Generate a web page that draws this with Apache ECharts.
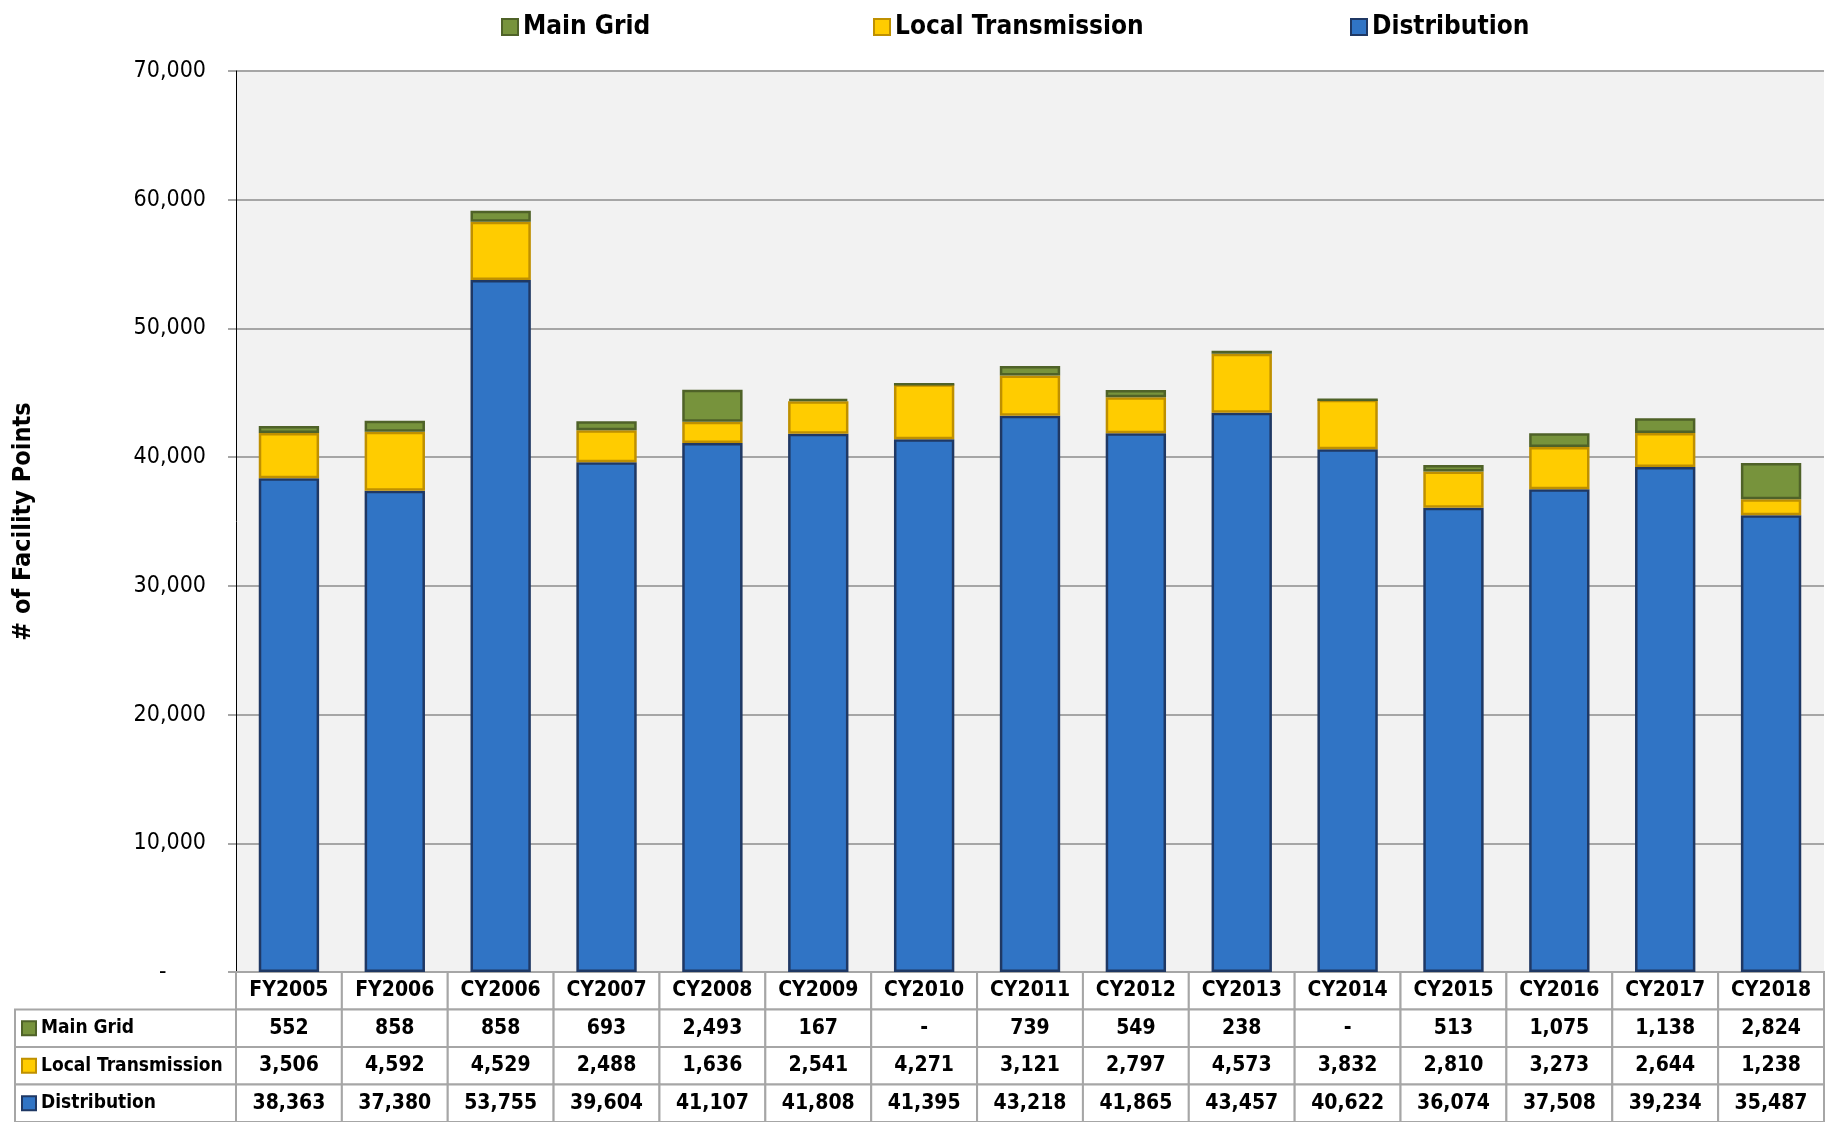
<!DOCTYPE html>
<html>
<head>
<meta charset="utf-8">
<title>Facility Points</title>
<script src="https://cdn.jsdelivr.net/npm/echarts@6/dist/echarts.min.js"></script>
<style>
  html, body { margin: 0; padding: 0; background: #fff; }
  #main { width: 1826px; height: 1122px; }
</style>
</head>
<body>
<div id="main"></div>
<script>
const categories = ['FY2005', 'FY2006', 'CY2006', 'CY2007', 'CY2008', 'CY2009', 'CY2010', 'CY2011',
  'CY2012', 'CY2013', 'CY2014', 'CY2015', 'CY2016', 'CY2017', 'CY2018']
const mainGrid = [552, 858, 858, 693, 2493, 167, 0, 739, 549, 238, 0, 513, 1075, 1138, 2824]
const localTransmission = [3506, 4592, 4529, 2488, 1636, 2541, 4271, 3121, 2797, 4573, 3832, 2810, 3273, 2644, 1238]
const distribution = [38363, 37380, 53755, 39604, 41107, 41808, 41395, 43218, 41865, 43457, 40622, 36074, 37508, 39234, 35487]
const rowNames = ['Main Grid', 'Local Transmission', 'Distribution']
const yMax = 70000
const yStep = 10000

const FONT = "'Liberation Sans Narrow', 'DejaVu Sans Condensed', 'Open Sans', sans-serif"
const colors = {
  'Main Grid': { fill: '#77933C', border: '#4F6228' },
  'Local Transmission': { fill: '#FFCC00', border: '#BF9000' },
  'Distribution': { fill: '#3074C5', border: '#1F3864' }
}
const rowValues = { 'Main Grid': mainGrid, 'Local Transmission': localTransmission, 'Distribution': distribution }

function fmt (v) {
  return v === 0 ? '-' : v.toLocaleString('en-US')
}

// table cells: [col, row, text, kind]  kind 0 = value cell, 1 = row label
const tableRows = [''].concat(rowNames)
const tableData = []
categories.forEach((c, i) => tableData.push([i, 0, c, 0]))
rowNames.forEach((name, r) => {
  tableData.push([0, r + 1, name, 1])
  rowValues[name].forEach((v, i) => tableData.push([i, r + 1, fmt(v), 0]))
})

const LABEL_COL_W = 221
const CELL_LINE = '#A6A6A6'

function renderCell (params, api) {
  const col = api.value(0)
  const row = api.value(1)
  const text = tableData[params.dataIndex][2]
  const kind = api.value(3)
  const size = api.size([1, 1])
  const c = api.coord([col, row])
  const w = size[0]
  const h = size[1]
  const y0 = c[1] - h / 2
  if (kind === 1) {
    const x0 = params.coordSys.x - LABEL_COL_W
    const col2 = colors[text]
    return {
      type: 'group',
      children: [
        { type: 'rect', shape: { x: x0, y: y0, width: LABEL_COL_W, height: h },
          style: { fill: '#fff', stroke: CELL_LINE, lineWidth: 2 } },
        { type: 'rect', shape: { x: x0 + 7, y: c[1] - 7, width: 14, height: 14 },
          style: { fill: col2.fill, stroke: col2.border, lineWidth: 2 } },
        { type: 'text', x: x0 + 26, y: c[1],
          style: { text: text, fill: '#000', fontSize: 19, fontWeight: 'bold', fontFamily: FONT,
            align: 'left', verticalAlign: 'middle' } }
      ]
    }
  }
  return {
    type: 'group',
    children: [
      { type: 'rect', shape: { x: c[0] - w / 2, y: y0, width: w, height: h },
        style: { fill: '#fff', stroke: CELL_LINE, lineWidth: 2 } },
      { type: 'text', x: c[0], y: c[1],
        style: { text: text, fill: '#000', fontSize: 21, fontWeight: 'bold', fontFamily: FONT,
          align: 'center', verticalAlign: 'middle' } }
    ]
  }
}

function barSeries (name, values) {
  return {
    name: name,
    type: 'bar',
    stack: 'total',
    xAxisIndex: 0,
    yAxisIndex: 0,
    barCategoryGap: '43%',
    data: values,
    itemStyle: { color: colors[name].fill, borderColor: colors[name].border, borderWidth: 2.5 }
  }
}

function legendAt (name, left) {
  return {
    data: [name],
    left: left,
    top: 9,
    itemWidth: 16,
    itemHeight: 16,
    itemGap: 0,
    icon: 'rect',
    selectedMode: false,
    textStyle: { fontSize: 26, fontWeight: 'bold', color: '#000', fontFamily: FONT }
  }
}

const chart = echarts.init(document.getElementById('main'))
chart.setOption({
  animation: false,
  backgroundColor: '#fff',
  legend: [
    legendAt('Main Grid', 496),
    legendAt('Local Transmission', 868),
    legendAt('Distribution', 1345)
  ],
  grid: [
    { left: 236, right: 2, top: 71, bottom: 150, show: true, backgroundColor: '#F2F2F2', borderWidth: 0,
      outerBoundsMode: 'none', containLabel: false },
    { left: 236, right: 2, top: 972, bottom: 0, outerBoundsMode: 'none', containLabel: false }
  ],
  xAxis: [
    { type: 'category', gridIndex: 0, data: categories,
      axisLine: { show: false }, axisTick: { show: false }, axisLabel: { show: false } },
    { type: 'category', gridIndex: 1, data: categories, show: false }
  ],
  yAxis: [
    {
      type: 'value',
      gridIndex: 0,
      min: 0,
      max: yMax,
      interval: yStep,
      name: '# of Facility Points',
      nameLocation: 'middle',
      nameRotate: 90,
      nameGap: 200,
      nameTextStyle: { fontSize: 25, fontWeight: 'bold', color: '#000', fontFamily: FONT },
      axisLine: { show: true, lineStyle: { color: '#000', width: 1 } },
      axisTick: { show: true, inside: false, length: 8, lineStyle: { color: '#A6A6A6', width: 2 } },
      splitLine: { show: true, lineStyle: { color: '#A6A6A6', width: 2 } },
      axisLabel: {
        margin: 30,
        fontSize: 23,
        color: '#000',
        fontFamily: FONT,
        formatter: v => (v === 0 ? '-      ' : v.toLocaleString('en-US'))
      }
    },
    { type: 'category', gridIndex: 1, data: tableRows, inverse: true, show: false }
  ],
  series: [
    barSeries('Distribution', distribution),
    barSeries('Local Transmission', localTransmission),
    barSeries('Main Grid', mainGrid),
    {
      type: 'custom',
      xAxisIndex: 1,
      yAxisIndex: 1,
      data: tableData.map(d => [d[0], d[1], 0, d[3]]),
      renderItem: renderCell,
      clip: false,
      silent: true
    }
  ]
})
</script>
</body>
</html>
